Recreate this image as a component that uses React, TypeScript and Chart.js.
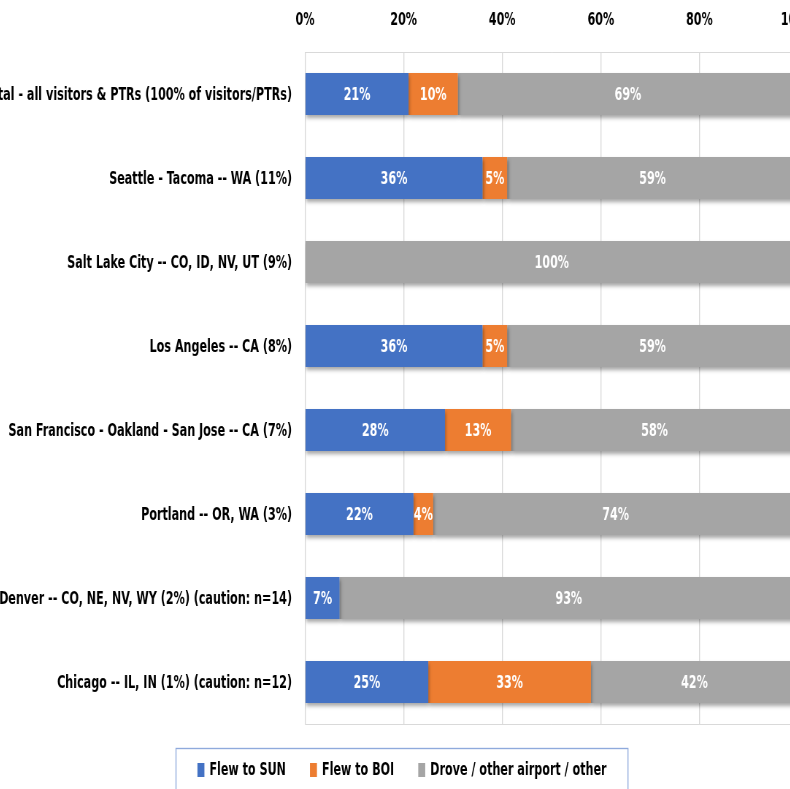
import React, { useEffect, useRef } from "react";
import { Chart, registerables } from "chart.js";

Chart.register(...registerables);

const categories = [
  "Total - all visitors & PTRs (100% of visitors/PTRs)",
  "Seattle - Tacoma -- WA (11%)",
  "Salt Lake City -- CO, ID, NV, UT (9%)",
  "Los Angeles -- CA (8%)",
  "San Francisco - Oakland - San Jose -- CA (7%)",
  "Portland -- OR, WA (3%)",
  "Denver -- CO, NE, NV, WY (2%) (caution: n=14)",
  "Chicago -- IL, IN (1%) (caution: n=12)",
];

const seriesNames = ["Flew to SUN", "Flew to BOI", "Drove / other airport / other"];
const flewToSun = [21, 36, 0, 36, 28.4, 22, 7, 25];
const flewToBoi = [10, 5, 0, 5, 13.4, 4, 0, 33];
const droveOther = [69, 59, 100, 59, 58.2, 74, 93, 42];
const seriesColors = ["#4472C4", "#ED7D31", "#A5A5A5"];
const xTicks = [0, 20, 40, 60, 80, 100];

const FONT = "'DejaVu Sans Condensed', 'DejaVu Sans', sans-serif";
const FS = 17;
// horizontal squeeze of the drawing (the reference uses a tall, narrow face)
const SQ = 0.73;
const CSS_W = 830;
const CSS_H = 800;
const INT_W = Math.round(CSS_W / SQ);

const barExtras = {
  id: "barExtras",
  beforeDatasetsDraw(chart: any) {
    const ctx = chart.ctx;
    ctx.save();
    ctx.shadowColor = "rgba(0,0,0,0.35)";
    ctx.shadowBlur = 4;
    ctx.shadowOffsetX = 1.4;
    ctx.shadowOffsetY = 3;
  },
  afterDatasetsDraw(chart: any) {
    const ctx = chart.ctx;
    ctx.restore();
    ctx.save();
    ctx.font = `bold ${FS}px ${FONT}`;
    ctx.fillStyle = "#FFFFFF";
    ctx.textAlign = "center";
    ctx.textBaseline = "middle";
    chart.data.datasets.forEach((ds: any, di: number) => {
      const meta = chart.getDatasetMeta(di);
      meta.data.forEach((el: any, i: number) => {
        const v = ds.data[i];
        if (!v) return;
        const x = (el.x + el.base) / 2;
        ctx.fillText(Math.round(v) + "%", x, el.y + 2);
      });
    });
    ctx.restore();
    const a = chart.chartArea;
    ctx.save();
    ctx.strokeStyle = "#D9D9D9";
    ctx.lineWidth = 1;
    ctx.beginPath();
    ctx.moveTo(a.left, a.bottom + 0.5);
    ctx.lineTo(a.right, a.bottom + 0.5);
    ctx.stroke();
    ctx.restore();
  },
  afterDraw(chart: any) {
    const ctx = chart.ctx;
    const a = chart.chartArea;
    ctx.save();
    ctx.font = `bold ${FS}px ${FONT}`;
    const boxW = 7 / SQ;
    const boxH = 14;
    const gapBox = 5 / SQ;
    const gapItem = 24 / SQ;
    const items = chart.data.datasets.map((ds: any) => ({
      label: ds.label,
      color: ds.backgroundColor,
      w: boxW + gapBox + ctx.measureText(ds.label).width,
    }));
    const total = items.reduce((s: number, it: any) => s + it.w, 0) + gapItem * (items.length - 1);
    const cx = chart.width / 2 - 1.4;
    const frameW = 452 / SQ;
    const frameTop = a.bottom + 24;
    ctx.strokeStyle = "#8FAADC";
    ctx.lineWidth = 1.37;
    ctx.strokeRect(cx - frameW / 2, frameTop + 0.5, frameW, 60);
    let x = cx - total / 2;
    const cy = frameTop + 22;
    items.forEach((it: any) => {
      ctx.fillStyle = it.color;
      ctx.fillRect(x, cy - boxH / 2, boxW, boxH);
      ctx.fillStyle = "#000000";
      ctx.textAlign = "left";
      ctx.textBaseline = "middle";
      ctx.fillText(it.label, x + boxW + gapBox, cy + 1);
      x += it.w + gapItem;
    });
    ctx.restore();
  },
};

export default function App() {
  const ref = useRef<HTMLCanvasElement | null>(null);
  useEffect(() => {
    if (!ref.current) return;
    const chart = new Chart(ref.current, {
      type: "bar",
      data: {
        labels: categories,
        datasets: [flewToSun, flewToBoi, droveOther].map((d, i) => ({
          label: seriesNames[i],
          data: d,
          backgroundColor: seriesColors[i],
          borderWidth: 0,
          barPercentage: 0.5,
          categoryPercentage: 1,
        })),
      },
      options: {
        indexAxis: "y",
        responsive: false,
        animation: false,
        devicePixelRatio: 1,
        layout: { padding: { left: 0, right: 27.4, top: 0, bottom: 76 } },
        plugins: {
          legend: { display: false },
          tooltip: { enabled: false },
        },
        scales: {
          x: {
            position: "top",
            stacked: true,
            min: 0,
            max: 100,
            afterBuildTicks: (scale: any) => {
              scale.ticks = xTicks.map((v) => ({ value: v }));
            },
            afterFit: (scale: any) => {
              scale.height = 52;
            },
            grid: {
              color: "#D9D9D9",
              drawTicks: true,
              tickLength: 21,
              tickColor: "rgba(0,0,0,0)",
              lineWidth: 1.37,
            },
            border: { display: true, color: "#D9D9D9" },
            ticks: {
              padding: 0,
              color: "#000000",
              font: { family: FONT, size: FS, weight: "bold" },
              callback: (v: any) => v + "%",
              maxRotation: 0,
            },
          },
          y: {
            stacked: true,
            afterFit: (scale: any) => {
              scale.width = 317 / SQ;
            },
            grid: { display: false, drawTicks: false },
            border: { display: false },
            ticks: {
              padding: 13 / SQ,
              labelOffset: 1.5,
              color: "#000000",
              autoSkip: false,
              font: { family: FONT, size: FS, weight: "bold" },
            },
          },
        },
      },
      plugins: [barExtras],
    } as any);
    return () => chart.destroy();
  }, []);

  return (
    <div
      style={{
        position: "fixed",
        left: 0,
        top: 0,
        width: 790,
        height: 789,
        overflow: "hidden",
        background: "#FFFFFF",
      }}
    >
      <canvas
        ref={ref}
        width={INT_W}
        height={CSS_H}
        style={{ position: "absolute", left: -12, top: 0, width: CSS_W, height: CSS_H }}
      />
    </div>
  );
}
